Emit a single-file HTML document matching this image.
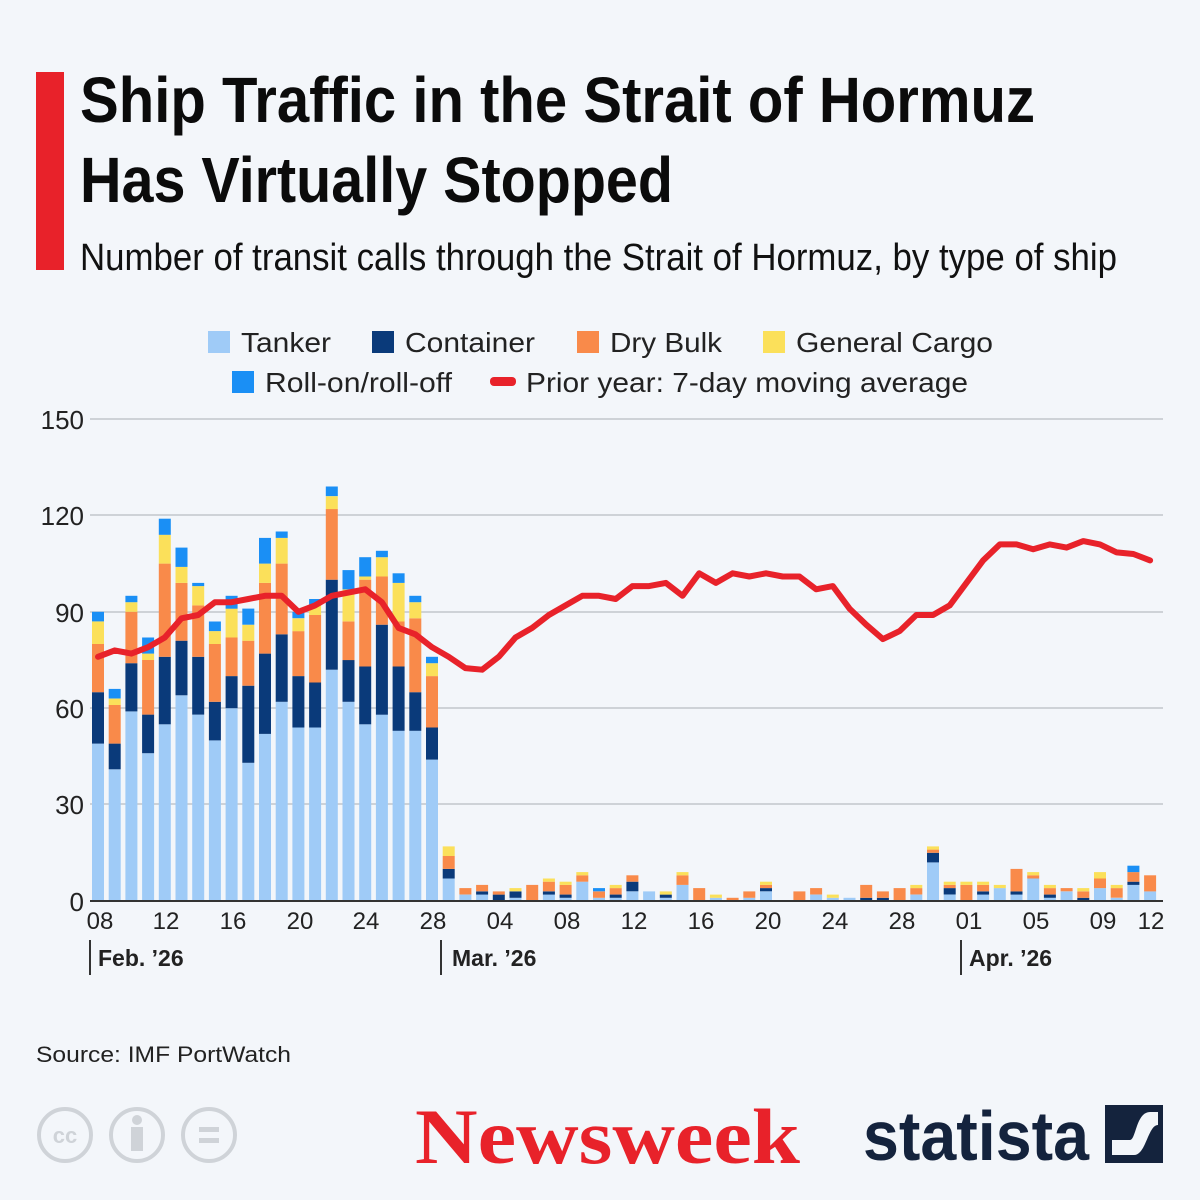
<!DOCTYPE html>
<html><head><meta charset="utf-8">
<style>
html,body{margin:0;padding:0;}
body{width:1200px;height:1200px;background:#f3f6fa;position:relative;overflow:hidden;font-family:"Liberation Sans",sans-serif;}
.abs{position:absolute;white-space:nowrap;}
</style></head>
<body>
<svg class="abs" style="left:0;top:0" width="1200" height="1200" xmlns="http://www.w3.org/2000/svg" font-family="Liberation Sans, sans-serif">
<rect x="36" y="72" width="28" height="198" fill="#e8222a"/>
<text x="80" y="122" font-weight="bold" font-size="64" fill="#0b0b0b" textLength="955" lengthAdjust="spacingAndGlyphs">Ship Traffic in the Strait of Hormuz</text>
<text x="80" y="202" font-weight="bold" font-size="64" fill="#0b0b0b" textLength="593" lengthAdjust="spacingAndGlyphs">Has Virtually Stopped</text>
<text x="80" y="270" font-size="38" fill="#111" textLength="1037" lengthAdjust="spacingAndGlyphs">Number of transit calls through the Strait of Hormuz, by type of ship</text>
<g font-size="28" fill="#222">
<rect x="208" y="331" width="22" height="22" fill="#9fcbf7"/><text x="241" y="352" textLength="90" lengthAdjust="spacingAndGlyphs">Tanker</text>
<rect x="372" y="331" width="22" height="22" fill="#0a3a7a"/><text x="405" y="352" textLength="130" lengthAdjust="spacingAndGlyphs">Container</text>
<rect x="577" y="331" width="22" height="22" fill="#f98a4a"/><text x="610" y="352" textLength="112" lengthAdjust="spacingAndGlyphs">Dry Bulk</text>
<rect x="763" y="331" width="22" height="22" fill="#fbe05a"/><text x="796" y="352" textLength="197" lengthAdjust="spacingAndGlyphs">General Cargo</text>
<rect x="232" y="371" width="22" height="22" fill="#1a8ff5"/><text x="265" y="392" textLength="187" lengthAdjust="spacingAndGlyphs">Roll-on/roll-off</text>
<rect x="490" y="377" width="26" height="9" rx="4" fill="#e8222a"/><text x="526" y="392" textLength="442" lengthAdjust="spacingAndGlyphs">Prior year: 7-day moving average</text>
</g>
<g stroke="#b8bcc2" stroke-width="1.3">
<line x1="90" y1="419" x2="1163" y2="419"/><line x1="90" y1="515" x2="1163" y2="515"/>
<line x1="90" y1="612" x2="1163" y2="612"/><line x1="90" y1="708" x2="1163" y2="708"/>
<line x1="90" y1="804" x2="1163" y2="804"/>
</g>
<g font-size="26" fill="#222" text-anchor="end">
<text x="84" y="429">150</text><text x="84" y="525">120</text><text x="84" y="622">90</text>
<text x="84" y="718">60</text><text x="84" y="814">30</text><text x="84" y="911">0</text>
</g>
<g id="bars"></g>
<line x1="90" y1="901" x2="1163" y2="901" stroke="#333" stroke-width="2"/>
<polyline id="line" fill="none" stroke="#e8222a" stroke-width="6" stroke-linejoin="round" stroke-linecap="round"/>
<g font-size="24" fill="#222" text-anchor="middle">
<text x="100" y="929">08</text><text x="166" y="929">12</text><text x="233" y="929">16</text>
<text x="300" y="929">20</text><text x="366" y="929">24</text><text x="433" y="929">28</text>
<text x="500" y="929">04</text><text x="567" y="929">08</text><text x="634" y="929">12</text>
<text x="701" y="929">16</text><text x="768" y="929">20</text><text x="835" y="929">24</text>
<text x="902" y="929">28</text><text x="969" y="929">01</text><text x="1036" y="929">05</text>
<text x="1103" y="929">09</text><text x="1151" y="929">12</text>
</g>
<g stroke="#333" stroke-width="2">
<line x1="90" y1="940" x2="90" y2="975"/><line x1="441" y1="940" x2="441" y2="975"/><line x1="961" y1="940" x2="961" y2="975"/>
</g>
<g font-size="23" font-weight="bold" fill="#222">
<text x="98" y="966">Feb. ’26</text><text x="452" y="966">Mar. ’26</text><text x="969" y="966">Apr. ’26</text>
</g>
<text x="36" y="1062" font-size="22" fill="#222" textLength="255" lengthAdjust="spacingAndGlyphs">Source: IMF PortWatch</text>
<g fill="none" stroke="#cfd3d8" stroke-width="4">
<circle cx="65" cy="1135" r="26"/><circle cx="137" cy="1135" r="26"/><circle cx="209" cy="1135" r="26"/>
</g>
<text x="65" y="1143" font-size="22" font-weight="bold" fill="#cfd3d8" text-anchor="middle">cc</text>
<circle cx="137" cy="1120" r="5" fill="#cfd3d8"/><rect x="131" y="1127" width="12" height="24" fill="#cfd3d8"/>
<rect x="199" y="1127" width="20" height="5" fill="#cfd3d8"/><rect x="199" y="1138" width="20" height="5" fill="#cfd3d8"/>
<text x="415" y="1163" font-family="Liberation Serif, serif" font-weight="bold" font-size="78" fill="#e8222a" textLength="385" lengthAdjust="spacingAndGlyphs">Newsweek</text>
<text x="863" y="1160" font-weight="bold" font-size="70" fill="#14233d" textLength="226" lengthAdjust="spacingAndGlyphs">statista</text>
<rect x="1105" y="1105" width="58" height="58" fill="#14233d"/>
<path d="M1112 1140 L1130 1140 C1136 1140 1136 1112 1150 1112 L1158 1112 L1158 1125 C1148 1125 1146 1155 1134 1155 L1112 1155 Z" fill="#f3f6fa"/>
</svg>
<script>
var d=[[49,65,80,87,90],[41,49,61,63,66],[59,74,90,93,95],[46,58,75,77,82],[55,76,105,114,119],[64,81,99,104,110],[58,76,92,98,99],[50,62,80,84,87],[60,70,82,91,95],[43,67,81,86,91],[52,77,99,105,113],[62,83,105,113,115],[54,70,84,88,90],[54,68,89,92,94],[72,100,122,126,129],[62,75,87,97,103],[55,73,100,101,107],[58,86,101,107,109],[53,73,87,99,102],[53,65,88,93,95],[44,54,70,74,76],
[7,10,14,17,17],[2,2,4,4,4],[2,3,5,5,5],[0,2,3,3,3],[1,3,3,4,4],[0,0,5,5,5],[2,3,6,7,7],[1,2,5,6,6],[6,6,8,9,9],[1,1,3,3,4],[1,2,4,5,5],[3,6,8,8,8],[3,3,3,3,3],[1,2,2,3,3],[5,5,8,9,9],[0,0,4,4,4],[1,1,1,2,2],[0,0,1,1,1],[1,1,3,3,3],[3,4,5,6,6],[0,0,0,0,0],
[0,0,3,3,3],[2,2,4,4,4],[1,1,1,2,2],[1,1,1,1,1],[0,1,5,5,5],[0,1,3,3,3],[0,0,4,4,4],[2,2,4,5,5],[12,15,16,17,17],[2,4,5,6,6],[0,0,5,6,6],[2,3,5,6,6],[4,4,4,5,5],[2,3,10,10,10],[7,7,8,9,9],[1,2,4,5,5],[3,3,4,4,4],[0,1,3,4,4],[4,4,7,9,9],[1,1,4,5,5],[5,6,9,9,11],[3,3,8,8,8]];
var c=["#9fcbf7","#0a3a7a","#f98a4a","#fbe05a","#1a8ff5"];
var Y=function(v){return 901-v*3.213;};
var s="";
d.forEach(function(b,i){var x=92+i*16.7;var p=0;for(var k=0;k<5;k++){var h=(b[k]-p)*3.213;if(h>0)s+='<rect x="'+x.toFixed(1)+'" y="'+Y(b[k]).toFixed(1)+'" width="12" height="'+h.toFixed(1)+'" fill="'+c[k]+'"/>';p=b[k];}});
document.getElementById("bars").innerHTML=s;
var l=[76,78,77,79,82,88,89,93,93,94,95,95,90,92,95,96,97,93,85,83,79,76,72.5,72,76,82,85,89,92,95,95,94,98,98,99,95,102,99,102,101,102,101,101,97,98,91,86,81.5,84,89,89,92,99,106,111,111,109.5,111,110,112,111,108.5,108,106];
document.getElementById("line").setAttribute("points",l.map(function(v,i){return (98+i*16.7).toFixed(1)+","+Y(v).toFixed(1);}).join(" "));
</script>
</body></html>
